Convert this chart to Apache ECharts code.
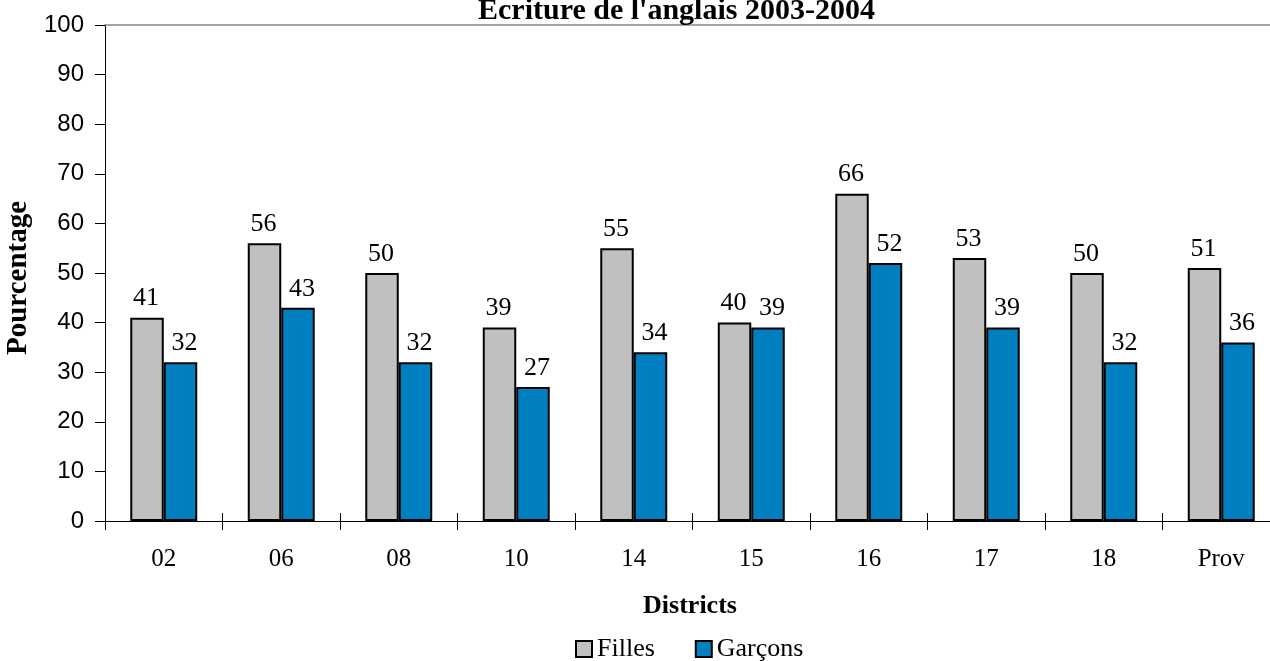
<!DOCTYPE html>
<html><head><meta charset="utf-8">
<script src="https://cdn.jsdelivr.net/npm/echarts@6/dist/echarts.min.js"></script>
<style>html,body{margin:0;padding:0;background:#fff}#c{width:1270px;height:661px}</style>
</head><body><div id="c"></div>
<script>
var categories = ['02','06','08','10','14','15','16','17','18','Prov'];
var filles = [41,56,50,39,55,40,66,53,50,51];
var garcons = [32,43,32,27,34,39,52,39,32,36];
var yTicks = [0,10,20,30,40,50,60,70,80,90,100];

var serif = '"Liberation Serif","Times New Roman",serif';
var sans = '"Liberation Sans",Arial,sans-serif';
var chart = echarts.init(document.getElementById('c'));
function lbl(dx){ return {show:true, position:'top', distance:6, offset:[dx,0], color:'#000', fontFamily:serif, fontSize:26}; }
chart.setOption({
  animation:false,
  title:{text:"Ecriture de l'anglais 2003-2004", left:473, top:-9,
    textStyle:{fontFamily:serif, fontWeight:'bold', fontSize:30, color:'#000'}},
  legend:{top:631, left:570, icon:'rect', itemWidth:16, itemHeight:16, itemGap:40,
    textStyle:{fontFamily:serif, fontSize:26, color:'#000'},
    data:['Filles','Garçons']},
  grid:{left:105, right:-10, top:25, bottom:140, containLabel:false, outerBoundsMode:'none'},
  xAxis:[{type:'category', data:categories, name:'Districts', nameLocation:'middle', nameGap:72,
    nameTextStyle:{fontFamily:serif, fontWeight:'bold', fontSize:26, color:'#000', padding:[0,0,0,-5]},
    axisLine:{lineStyle:{color:'#000', width:1}},
    axisTick:{show:true, length:9, lineStyle:{color:'#000'}},
    axisLabel:{fontFamily:serif, fontSize:25, color:'#000', margin:26}},
   {type:'category', data:categories, position:'bottom', axisLine:{show:false},
    axisTick:{show:true, inside:true, length:8, lineStyle:{color:'#000'}}, axisLabel:{show:false}},
   {type:'category', data:categories, position:'top', axisLine:{show:true, lineStyle:{color:'#888', width:1.5}},
    axisTick:{show:false}, axisLabel:{show:false}}],
  yAxis:{type:'value', min:0, max:100, interval:10,
    name:'Pourcentage', nameLocation:'middle', nameGap:66,
    nameTextStyle:{fontFamily:serif, fontWeight:'bold', fontSize:29, color:'#000', padding:[0,0,0,-10]},
    axisLine:{show:true, lineStyle:{color:'#000'}},
    axisTick:{show:true, length:10, lineStyle:{color:'#000'}},
    axisLabel:{fontFamily:sans, fontSize:24, color:'#000', margin:21,
      formatter:function(v){return yTicks.indexOf(v)>=0?String(v):'';}},
    splitLine:{show:false}},
  series:[
    {name:'Filles', type:'bar', data:filles, barWidth:'28.5%', barGap:'0%',
     itemStyle:{color:'#C0C0C0', borderColor:'#000', borderWidth:2}, label:lbl(-1)},
    {name:'Garçons', type:'bar', data:garcons, barWidth:'28.5%', barGap:'0%',
     itemStyle:{color:'#0080C0', borderColor:'#000', borderWidth:2}, label:lbl(4)}
  ]
});
</script></body></html>
